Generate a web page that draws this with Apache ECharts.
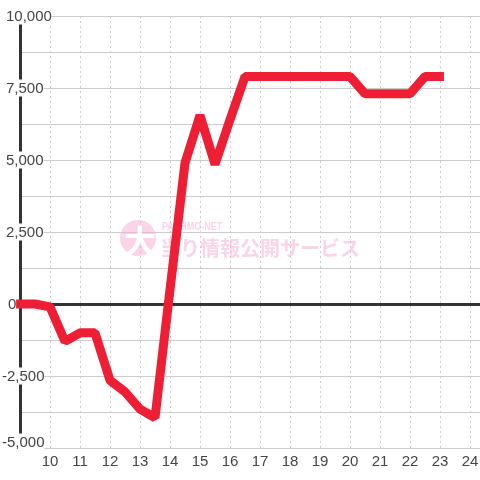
<!DOCTYPE html>
<html>
<head>
<meta charset="utf-8">
<style>html,body{margin:0;padding:0;background:#fff}#chart{width:480px;height:480px}</style>
<script src="https://cdn.jsdelivr.net/npm/echarts@6/dist/echarts.min.js"></script>
</head>
<body>
<div id="chart"></div>
<script>
// the drawn line starts a little left of the axis and stops a little past 23
var hours = [8.87, 9.5, 10, 10.5, 11, 11.5, 12, 12.5, 13, 13.5, 14, 14.5, 15, 15.5, 16, 16.5, 17, 17.5, 18, 18.5, 19, 19.5, 20, 20.5, 21, 21.5, 22, 22.5, 23.13];
var balance = [0, 0, -100, -1300, -1000, -1000, -2650, -3050, -3650, -3950, 500, 4900, 6550, 4850, 6400, 7900, 7900, 7900, 7900, 7900, 7900, 7900, 7900, 7300, 7300, 7300, 7300, 7900, 7900];
var xTicks = [10, 11, 12, 13, 14, 15, 16, 17, 18, 19, 20, 21, 22, 23, 24];

var myChart = echarts.init(document.getElementById('chart'));

function yLabel(v) {
	if (v === 0) return '{z|0}';
	var s = Math.abs(v).toLocaleString('en-US');
	return v < 0 ? '{n|-' + s + '}' : '{p|' + s + '}';
}

var labelBox = {fontSize: 15, lineHeight: 12, backgroundColor: '#fff', color: '#444', fontFamily: 'Liberation Sans'};
var markPink = 'rgba(248,170,210,0.5)';

var points = hours.map(function (h, i) {
	return [h, balance[i]];
});

var option = {
	backgroundColor: '#fff',
	animation: false,
	grid: {left: 20, right: 0, top: 16, bottom: 32, outerBoundsMode: 'none'},
	xAxis: [
		{
			type: 'value',
			min: 9,
			max: 24.333,
			interval: 1,
			axisLine: {onZero: false, lineStyle: {color: '#ccc', width: 1}},
			axisTick: {show: false},
			axisLabel: {
				color: '#444',
				fontSize: 15,
				fontFamily: 'Liberation Sans',
				margin: 6,
				showMaxLabel: false,
				formatter: function (v) {
					return xTicks.indexOf(v) >= 0 ? String(v) : '';
				}
			},
			splitLine: {show: true, lineStyle: {color: '#ccc', width: 1, type: [2, 3]}}
		},
		{
			type: 'value',
			min: 9,
			max: 24.333,
			interval: 1,
			position: 'bottom',
			axisLine: {onZero: true, lineStyle: {color: '#333', width: 3}},
			axisTick: {show: false},
			axisLabel: {show: false},
			splitLine: {show: false}
		}
	],
	yAxis: {
		type: 'value',
		min: -5000,
		max: 10000,
		interval: 2500,
		axisLine: {show: true, onZero: false, lineStyle: {color: '#333', width: 3}},
		axisTick: {show: false},
		minorTick: {show: false, splitNumber: 2},
		minorSplitLine: {show: true, lineStyle: {color: '#ccc', width: 1}},
		splitLine: {show: true, lineStyle: {color: '#ccc', width: 1}},
		axisLabel: {
			margin: 18,
			align: 'left',
			verticalAlignMinLabel: 'bottom',
			formatter: yLabel,
			rich: {
				p: Object.assign({padding: [2, 0, 0, 4]}, labelBox),
				n: Object.assign({padding: [2, 0, 0, 0]}, labelBox),
				z: Object.assign({padding: [2, 0, 0, 6]}, labelBox)
			}
		}
	},
	graphic: [
		{type: 'circle', silent: true, z: 1, shape: {cx: 138, cy: 238, r: 18}, style: {fill: markPink}},
		{type: 'text', silent: true, z: 1, x: 140, y: 241, style: {text: '大', fill: '#fff', fontSize: 32, fontWeight: 'bold', fontFamily: 'Noto Sans CJK JP', align: 'center', verticalAlign: 'middle'}},
		{type: 'text', silent: true, z: 1, x: 162, y: 227, scaleY: 1.2, style: {text: 'PACHMO-NET', fill: markPink, fontSize: 9, fontWeight: 'bold', fontFamily: 'Liberation Sans', align: 'left', verticalAlign: 'middle'}},
		{type: 'text', silent: true, z: 1, x: 160, y: 248, style: {text: '当り情報公開サービス', fill: markPink, fontSize: 20, fontWeight: 'bold', fontFamily: 'Noto Sans CJK JP', align: 'left', verticalAlign: 'middle'}}
	],
	series: [
		{
			type: 'line',
			data: points,
			xAxisIndex: 0,
			symbol: 'none',
			silent: true,
			clip: false,
			z: 5,
			lineStyle: {color: '#ee1f35', width: 9, cap: 'butt', join: 'bevel'}
		}
	]
};

myChart.setOption(option);
</script>
</body>
</html>
